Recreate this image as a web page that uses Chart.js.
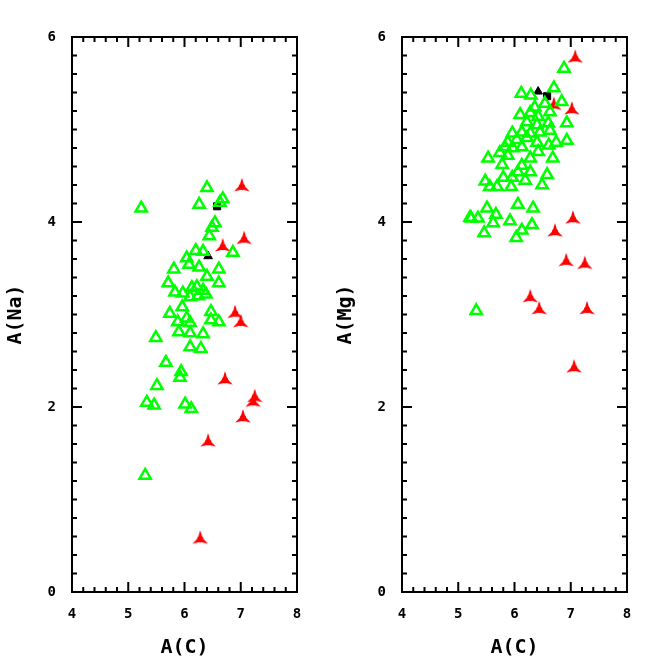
<!DOCTYPE html>
<html><head><meta charset="utf-8">
<script src="https://cdn.jsdelivr.net/npm/chart.js@4"></script>
<style>body{margin:0;background:#fff;width:664px;height:664px;position:relative;overflow:hidden}
.w{position:absolute;top:0;width:310px;height:664px}</style></head><body>
<div class="w" style="left:0"><canvas id="c1"></canvas></div>
<div class="w" style="left:330px"><canvas id="c2"></canvas></div>
<script>
// Left panel: A(Na) vs A(C)
const naGreenC = [5.23,6.40,6.26,6.68,6.63,6.54,6.49,6.44,6.86,6.20,6.33,6.04,6.08,6.26,5.81,6.61,6.40,5.71,6.61,5.83,5.97,6.13,6.22,6.33,6.38,6.10,6.24,5.96,5.74,6.47,6.47,6.61,5.88,6.04,6.10,5.90,6.10,6.33,5.49,6.10,6.29,5.67,5.94,5.92,5.51,5.33,5.46,6.01,6.12,5.30];
const naGreenV = [4.15,4.37,4.19,4.25,4.21,3.99,3.94,3.85,3.67,3.69,3.68,3.61,3.54,3.51,3.49,3.49,3.41,3.34,3.34,3.24,3.23,3.29,3.30,3.26,3.22,3.19,3.20,3.08,3.01,3.03,2.94,2.92,2.92,2.96,2.91,2.81,2.80,2.79,2.75,2.65,2.63,2.48,2.38,2.32,2.23,2.05,2.02,2.03,1.98,1.26];
const naRedC = [7.02,7.06,6.68,6.90,7.00,6.72,7.25,7.22,7.04,6.42,6.28];
const naRedV = [4.38,3.81,3.73,3.01,2.91,2.29,2.10,2.05,1.88,1.62,0.57];
const naTriC = [6.42], naTriV = [3.63];
const naSqC = [6.58], naSqV = [4.17];
// Right panel: A(Mg) vs A(C)
const mgGreenC = [6.88,6.12,6.29,6.70,6.84,6.36,6.54,6.10,6.28,6.42,6.63,6.22,6.40,6.60,6.93,5.96,6.13,6.28,6.45,6.63,5.88,6.04,6.22,6.40,6.74,6.93,5.83,5.97,6.13,6.61,6.42,5.74,5.88,6.28,6.68,5.53,5.78,6.13,6.28,6.58,6.06,5.96,5.80,5.48,5.56,5.69,5.94,6.19,6.49,6.06,6.33,5.51,5.67,5.23,5.35,5.92,5.62,6.31,5.46,6.13,6.03,5.32,5.21];
const mgGreenV = [5.66,5.39,5.37,5.45,5.30,5.24,5.28,5.16,5.18,5.14,5.19,5.08,5.05,5.07,5.07,4.96,4.97,4.96,4.97,4.99,4.86,4.89,4.91,4.86,4.86,4.88,4.81,4.80,4.81,4.83,4.76,4.75,4.72,4.69,4.69,4.69,4.62,4.61,4.54,4.51,4.54,4.48,4.48,4.44,4.38,4.38,4.38,4.45,4.40,4.19,4.15,4.15,4.08,4.04,4.04,4.01,3.99,3.97,3.88,3.91,3.83,3.04,4.05];
const mgRedC = [7.08,7.02,6.70,7.04,6.72,6.92,7.25,6.28,7.29,6.44,7.06];
const mgRedV = [5.77,5.21,5.26,4.03,3.89,3.57,3.54,3.18,3.05,3.05,2.42];
const mgTriC = [6.42], mgTriV = [5.41];
const mgSqC = [6.58], mgSqV = [5.36];
const xTicks = [4,5,6,7,8];
const yTicks = [0,2,4,6];

function tri3(){const c=document.createElement('canvas');c.width=c.height=20;const g=c.getContext('2d');
 g.translate(10,10);g.fillStyle='#ff0000';
 for(let k=0;k<3;k++){g.save();g.rotate(k*2*Math.PI/3);g.beginPath();g.moveTo(-2.6,0);g.lineTo(-1,-6);g.lineTo(0,-9);g.lineTo(1,-6);g.lineTo(2.6,0);g.closePath();g.fill();g.restore();}
 g.beginPath();g.arc(0,0,3.2,0,7);g.fill();return c;}
const redStar = tri3();
const pts=(a,b)=>a.map((x,i)=>({x,y:b[i]}));
const font={family:'DejaVu Sans Mono',weight:'bold'};
const frame={id:'frame',afterDraw(ch){const a=ch.chartArea,g=ch.ctx,xs=ch.scales.x,ys=ch.scales.y;
 g.save();g.strokeStyle='#000';g.lineWidth=2;g.strokeRect(a.left,a.top,a.right-a.left,a.bottom-a.top);
 for(let v=4;v<=8.001;v+=0.2){const p=xs.getPixelForValue(v),m=Math.abs(v-Math.round(v))<0.01,L=m?10:5;
  g.beginPath();g.moveTo(p,a.bottom);g.lineTo(p,a.bottom-L);g.moveTo(p,a.top);g.lineTo(p,a.top+L);g.stroke();}
 for(let v=0;v<=6.001;v+=0.2){const p=ys.getPixelForValue(v),m=Math.abs(v/2-Math.round(v/2))<0.01,L=m?10:5;
  g.beginPath();g.moveTo(a.left,p);g.lineTo(a.left+L,p);g.moveTo(a.right,p);g.lineTo(a.right-L,p);g.stroke();}
 g.restore();}};
function make(id,ylab,gc,gv,rc,rv,tc,tv,sc,sv){
 new Chart(document.getElementById(id),{type:'scatter',
  data:{datasets:[
   {data:pts(gc,gv),pointStyle:'triangle',radius:6.5,borderColor:'#00ff00',backgroundColor:'rgba(0,0,0,0)',borderWidth:2.5},
   {data:pts(rc,rv),pointStyle:redStar,radius:9},
   {data:pts(tc,tv),pointStyle:'triangle',radius:5,borderColor:'#000',backgroundColor:'#000',borderWidth:1},
   {data:pts(sc,sv),pointStyle:'rect',radius:5,borderColor:'#000',backgroundColor:'#000',borderWidth:1}]},
  options:{responsive:false,animation:false,events:[],
   layout:{padding:{top:37,right:13,left:0,bottom:0}},
   plugins:{legend:{display:false},tooltip:{enabled:false}},
   scales:{
    x:{type:'linear',min:4,max:8,afterBuildTicks:s=>{s.ticks=xTicks.map(v=>({value:v}))},afterFit:s=>{s.height=72},
     grid:{display:false},border:{display:false},
     ticks:{color:'#000',font:{...font,size:14},padding:6},
     title:{display:true,text:'A(C)',color:'#000',font:{...font,size:20},padding:{top:6}}},
    y:{type:'linear',min:0,max:6,afterBuildTicks:s=>{s.ticks=yTicks.map(v=>({value:v}))},afterFit:s=>{s.width=72},
     grid:{display:false},border:{display:false},
     ticks:{color:'#000',font:{...font,size:14},padding:8},
     title:{display:true,text:ylab,color:'#000',font:{...font,size:20},padding:{bottom:4}}}}},
  plugins:[frame]});}
function sz(id){const c=document.getElementById(id);c.width=310;c.height=664;c.style.width='310px';c.style.height='664px';}
sz('c1');sz('c2');
make('c1','A(Na)',naGreenC,naGreenV,naRedC,naRedV,naTriC,naTriV,naSqC,naSqV);
make('c2','A(Mg)',mgGreenC,mgGreenV,mgRedC,mgRedV,mgTriC,mgTriV,mgSqC,mgSqV);
</script></body></html>
